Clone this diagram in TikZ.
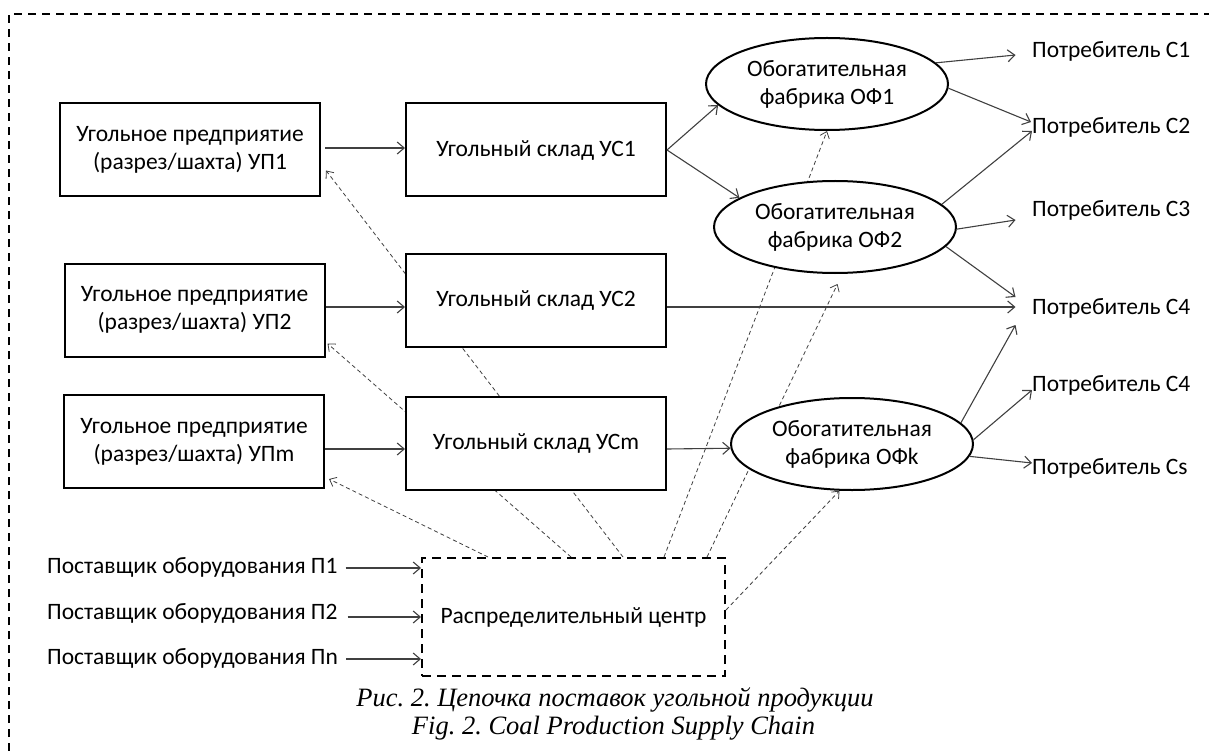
\documentclass[tikz,border=0pt]{standalone}
\usepackage{fontspec}
\setmainfont{Carlito}
\newfontfamily\capfont{Liberation Serif}
\usetikzlibrary{arrows.meta,shapes.geometric,backgrounds,calc}
\frenchspacing
\begin{document}
\begin{tikzpicture}[x=1pt,y=-1pt,
  lbl/.style={font=\fontsize{23.5}{28}\selectfont, inner sep=0pt},
  boxnode/.style={lbl, draw, line width=2pt, fill=white, minimum width=260pt, minimum height=93pt, align=center},
  ovalnode/.style={lbl, ellipse, draw, line width=2pt, fill=white, minimum width=242pt, minimum height=92pt, align=center},
  flow/.style={draw=black!75, line width=1.1pt, -{Straight Barb[length=7pt,width=12pt,line width=1.1pt]}},
  info/.style={draw=black!75, line width=0.8pt, dash pattern=on 4pt off 3pt, -{Straight Barb[length=6pt,width=10pt,line width=0.8pt]}},
  dcbox/.style={lbl, draw, line width=2pt, dash pattern=on 9pt off 6pt, minimum width=303pt, minimum height=118pt, fill=white},
  captext/.style={font=\capfont\itshape\fontsize{26.5}{28}\selectfont\frenchspacing, inner sep=0pt}
]
\useasboundingbox (0,0) rectangle (1209,751);
\draw[line width=2pt, dash pattern=on 8pt off 6pt] (9,751) -- (9,14) -- (1209,14);

\node[boxnode] (up1) at (190,150) {Угольное предприятие\\(разрез/шахта) УП1};
\node[boxnode] (up2) at (194.5,310) {Угольное предприятие\\(разрез/шахта) УП2};
\node[boxnode] (upm) at (194,441.5) {Угольное предприятие\\(разрез/шахта) УПm};
\node[boxnode] (us1) at (536,150) {Угольный склад УС1};
\node[boxnode] (us2) at (536,300.5) {Угольный склад УС2};
\node[boxnode] (usm) at (536,443) {Угольный склад УСm};
\node[ovalnode] (of1) at (827,84) {Обогатительная\\фабрика ОФ1};
\node[ovalnode] (of2) at (835,227) {Обогатительная\\фабрика ОФ2};
\node[ovalnode] (ofk) at (852,444) {Обогатительная\\фабрика ОФk};
\node[dcbox] (dc) at (573.5,617) {Распределительный центр};

\node[lbl, anchor=west] (c1) at (1032,51) {Потребитель С1};
\node[lbl, anchor=west] (c2) at (1032,127) {Потребитель С2};
\node[lbl, anchor=west] (c3) at (1032,210) {Потребитель С3};
\node[lbl, anchor=west] (c4a) at (1032,308) {Потребитель С4};
\node[lbl, anchor=west] (c4b) at (1032,385) {Потребитель С4};
\node[lbl, anchor=west] (cs) at (1032,468) {Потребитель Сs};

\node[lbl, anchor=west] (p1) at (47,567) {Поставщик оборудования П1};
\node[lbl, anchor=west] (p2) at (47,613) {Поставщик оборудования П2};
\node[lbl, anchor=west] (pn) at (47,658) {Поставщик оборудования Пn};

\draw[flow] ([xshift=4pt,yshift=2pt]up1.east) -- ([yshift=2pt]us1.west);
\draw[flow] ([yshift=3pt]up2.east) -- ([yshift=-6.5pt]us2.west);
\draw[flow] ([yshift=-7.5pt]upm.east) -- ([yshift=-6pt]usm.west);
\draw[flow] (us1.east) -- (of1.191);
\draw[flow] (us1.east) -- (of2.163);
\draw[flow] ([yshift=-6.5pt]us2.east) -- ([xshift=-16.5pt,yshift=1pt]c4a.west);
\draw[flow] ([yshift=-6pt]usm.east) -- (ofk.182);
\draw[flow] (of1.11) -- ([xshift=-16.5pt,yshift=-4pt]c1.west);
\draw[flow] (of1.358) -- ([xshift=-1pt,yshift=5pt]c2.west);
\draw[flow] (of2.12) -- ([yshift=-4pt]c2.west);
\draw[flow] (of2.359) -- ([xshift=-16.5pt,yshift=-10pt]c3.west);
\draw[flow] (of2.350) -- ([xshift=-16.5pt,yshift=11pt]c4a.west);
\draw[flow] (ofk.11) -- ([xshift=-16.5pt,yshift=-17pt]c4a.west);
\draw[flow] (ofk.2) -- ([yshift=-5pt]c4b.west);
\draw[flow] (ofk.354) -- ([yshift=5pt]cs.west);

\draw[flow] ($(p1.east)+(8,1)$) -- ($(p1.east -| dc.west)+(0,1)$);
\draw[flow] ($(p2.east)+(10,4)$) -- ($(p2.east -| dc.west)+(0,4)$);
\draw[flow] ($(pn.east)+(8,1)$) -- ($(pn.east -| dc.west)+(0,1)$);

\begin{scope}[on background layer]
\draw[info] ([xshift=-85.5pt]dc.north) -- ([xshift=4pt,yshift=10pt]upm.south east);
\draw[info] ([xshift=-2.5pt]dc.north) -- ([xshift=2pt,yshift=14pt]up2.south east);
\draw[info] ([xshift=49.5pt]dc.north) -- ([xshift=5pt,yshift=27pt]up1.south east);
\draw[info] ([xshift=90.5pt]dc.north) -- (of1.270);
\draw[info] ([xshift=133.5pt]dc.north) -- ([xshift=2.5pt,yshift=-10pt]of2.south);
\draw[info] ([yshift=7pt]dc.east) -- (ofk.255);
\end{scope}

\node[captext] (cap1) at (615,700) {Рис. 2. Цепочка поставок угольной продукции};
\node[captext] (cap2) at (613.5,728) {Fig. 2. Coal Production Supply Chain};
\end{tikzpicture}
\end{document}
